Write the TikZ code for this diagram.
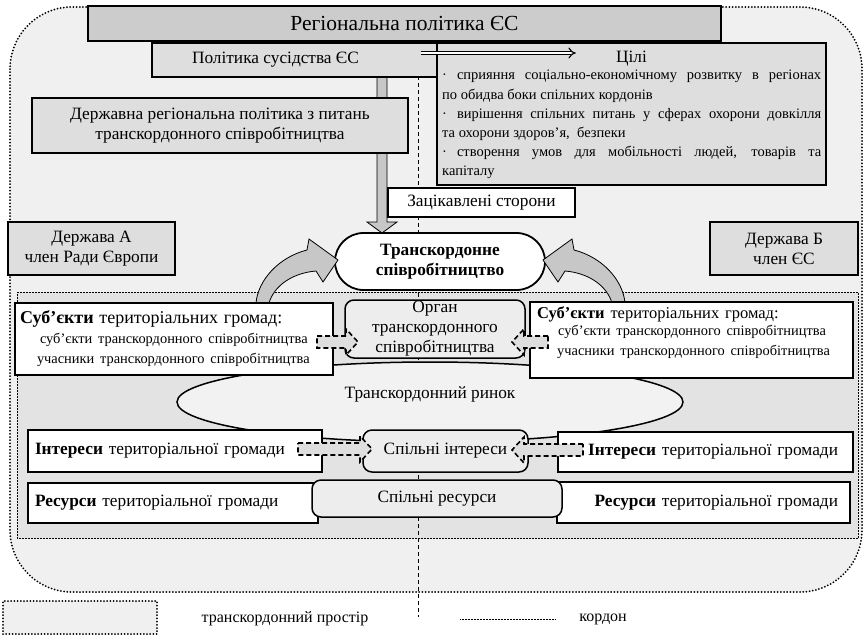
\documentclass[tikz,border=0pt]{standalone}
\usepackage{fontspec}
\setmainfont{Liberation Serif}
\usetikzlibrary{shapes.misc,shapes.geometric,arrows.meta}
\newcommand\bigsize{\fontsize{21.5}{24}\selectfont}
\newcommand\mainsize{\fontsize{17.3}{20}\selectfont}
\newcommand\subsize{\fontsize{14.4}{20}\selectfont}
\newcommand\goalsize{\fontsize{14.5}{19.2}\selectfont}
\newcommand\risearrow{\path[block] (256,303) .. controls (258,280) and (279,257) .. (307,250)
  -- (309,239) -- (338,260) -- (323,282) -- (316,271)
  .. controls (292,273) and (274,286) .. (269,303) -- cycle;}
\newcommand\linkarrow[3]{\pgfmathsetmacro\linkbase{#2+12*sign(#1-#2)}
  \path[link arrow] (#1,#3-6) -- (\linkbase,#3-6) -- (\linkbase,#3-13) -- (#2,#3)
  -- (\linkbase,#3+13) -- (\linkbase,#3+6) -- (#1,#3+6) -- cycle;}

\begin{document}
\begin{tikzpicture}[x=1pt,y=-1pt,font=\mainsize,
  box/.style={draw,line width=1.5pt,inner sep=0pt,align=center},
  grey box/.style={box,fill=black!13},
  white box/.style={box,fill=white},
  soft box/.style={box,fill=black!7,rounded corners=9pt},
  space line/.style={line width=2pt,dash pattern=on 0pt off 3.2pt,line cap=round},
  block/.style={draw,line width=0.8pt,fill=black!22},
  link arrow/.style={draw,line width=1.6pt,dash pattern=on 5pt off 3pt,fill=black!13}]

  \useasboundingbox (0,0) rectangle (867,641);
  % transborder space
  \path[space line,draw,fill=black!6,rounded corners=62pt] (10,7) rectangle (862,592);
  \path[draw,line width=0.5pt,densely dotted,fill=black!11] (17,292) rectangle (858,538);

  % border
  \coordinate (border top) at (418,41);
  \coordinate (border end) at (418,617);
  \draw[line width=0.6pt,dash pattern=on 4pt off 3pt] (border top) -- (border end);

  \path[block] (377,41) -- (377,222) -- (367,222) -- (382,233) -- (397,222) -- (387,222) -- (387,41) -- cycle;

  \node[box,fill=black!20,minimum width=633,minimum height=35,font=\bigsize] (reg) at (404.5,23.5) {Регіональна політика ЄС};
  \node[grey box,minimum width=285,minimum height=34] (pol) at (294.5,60) {Політика сусідства ЄС\hspace*{38pt}};
  \node[grey box,minimum width=389,minimum height=142] (goals) at (631.5,114) {};
  \node (goals title) at (631.5,59) {Цілі};
  \node[anchor=north west,text width=379,align=justify,font=\goalsize,inner sep=0pt] (goals text) at (442,70) {\setlength\parindent{0pt}%
    ·\hspace{10pt}сприяння соціально-економічному розвитку в регіонах\linebreak по обидва боки спільних кордонів\par
    ·\hspace{10pt}вирішення спільних питань у сферах охорони довкілля\linebreak та охорони здоров’я,\ \ безпеки\par
    ·\hspace{10pt}створення умов для мобільності людей, товарів та\linebreak капіталу};
  \draw[double,double distance=2.6pt,line width=1.1pt,-{Implies}] ([shift={(-17,-7)}]pol.east) -- ++(155,0);

  \node[grey box,minimum width=376,minimum height=55] (state) at (220,125.5) {Державна регіональна політика з питань\\транскордонного співробітництва};
  \node[white box,minimum width=187,minimum height=29] (stake) at (481.5,202.5) {Зацікавлені сторони};
  \node[grey box,minimum width=167,minimum height=53] (stateA) at (91.5,248.5) {Держава А\\член Ради Європи};
  \node[grey box,minimum width=148,minimum height=53] (stateB) at (784,248.5) {Держава Б\\член ЄС};
  \node[white box,rounded rectangle,minimum width=210,minimum height=57,line width=1.8pt,font=\mainsize\bfseries] (coop) at (440,261.5) {Транскордонне\\співробітництво};

  \risearrow
  \begin{scope}[xshift=881pt,xscale=-1]
    \risearrow
  \end{scope}

  \node[box,ellipse,fill=black!5,minimum width=506,minimum height=80] (market) at (430,402) {};
  \node (market text) at (430,394) {Транскордонний ринок};

  \node[white box,minimum width=318,minimum height=72,text width=308,align=left] (subjL) at (174,339) {{\fontsize{18}{20}\selectfont\textbf{Суб’єкти} територіальних громад:}\\ \subsize\hspace*{20pt}суб’єкти транскордонного співробітництва\\ \hspace*{17pt}учасники транскордонного співробітництва};
  \node[white box,minimum width=323,minimum height=76] (subjR) at (691.5,340) {};
  \node[anchor=north west,text width=315,align=left,inner sep=0pt] (subjR text) at (537,306) {{\fontsize{16.5}{17}\selectfont\textbf{Суб’єкти} територіальних громад:}\\ \fontsize{14.4}{17}\selectfont\hspace*{21pt}суб’єкти транскордонного співробітництва\\ \hspace*{20pt}учасники транскордонного співробітництва};
  \node[soft box,minimum width=180,minimum height=58] (organ) at (435,329) {Орган\\транскордонного\\співробітництва};

  \node[white box,minimum width=294,minimum height=42,text width=280,align=left] (intL) at (175,451) {\textbf{Інтереси} територіальної громади};
  \node[white box,minimum width=290,minimum height=40,text width=276,align=left] (resL) at (173,503) {\textbf{Ресурси} територіальної громади};
  \node[white box,minimum width=295,minimum height=40,text width=265,align=right] (intR) at (705.5,452) {\textbf{Інтереси} територіальної громади};
  \node[white box,minimum width=293,minimum height=41,text width=269,align=right] (resR) at (703.5,502.5) {\textbf{Ресурси} територіальної громади};
  \node[soft box,minimum width=165,minimum height=42] (comInt) at (445.5,451) {Спільні інтереси};
  \node[soft box,minimum width=250,minimum height=37] (comRes) at (437,498.5) {Спільні ресурси};

  \linkarrow{317}{358}{342}
  \linkarrow{548}{512}{342}
  \linkarrow{298}{372}{449}
  \linkarrow{583}{512}{450}

  % legend
  \node[space line,draw,fill=black!6,minimum width=154,minimum height=33] (key space) at (80,617.5) {};
  \node[font=\fontsize{16}{19}\selectfont] (key space text) at (285,619) {транскордонний простір};
  \coordinate (key line a) at (460,619);
  \coordinate (key line b) at (555,619);
  \draw[line width=0.5pt,densely dotted] (key line a) -- (key line b);
  \node[font=\fontsize{16}{19}\selectfont] (key line text) at (603,619) {кордон};
\end{tikzpicture}
\end{document}
